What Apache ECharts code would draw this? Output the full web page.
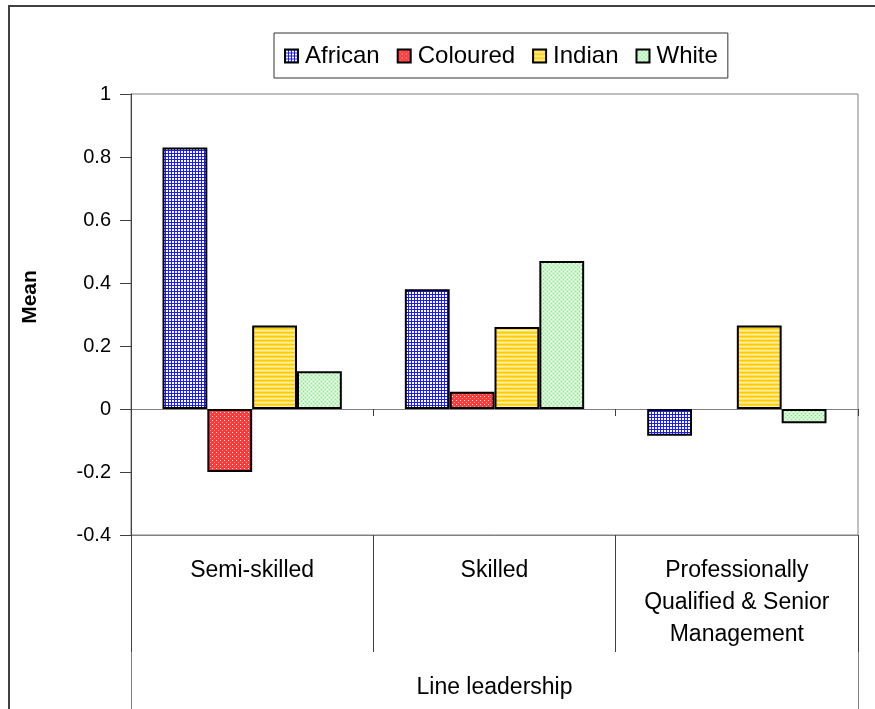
<!DOCTYPE html>
<html>
<head>
<meta charset="utf-8">
<script src="https://cdn.jsdelivr.net/npm/echarts@6/dist/echarts.min.js"></script>
<style>
  html, body { margin: 0; padding: 0; background: #fff; }
  #chart { width: 875px; height: 709px; }
</style>
</head>
<body>
<div id="chart"></div>
<script>
// Line leadership: mean score per occupational level and population group
const categories = ['Semi-skilled', 'Skilled', 'Professionally\nQualified & Senior\nManagement'];
const groupNames = ['African', 'Coloured', 'Indian', 'White'];
const african  = [0.83, 0.38, -0.085];
const coloured = [-0.2, 0.055, null];
const indian   = [0.265, 0.26, 0.265];
const white    = [0.12, 0.47, -0.045];
const yTicks   = { min: -0.4, max: 1, interval: 0.2 };

const FONT = 'Liberation Sans, Arial, sans-serif';

// Small tiled fills drawn on canvases, used as bar patterns
function tile(w, h, painter) {
  const c = document.createElement('canvas');
  c.width = w; c.height = h;
  const g = c.getContext('2d');
  g.fillStyle = '#ffffff';
  g.fillRect(0, 0, w, h);
  for (let y = 0; y < h; y++) {
    for (let x = 0; x < w; x++) {
      g.fillStyle = painter(x, y);
      g.fillRect(x, y, 1, 1);
    }
  }
  return { image: c, repeat: 'repeat' };
}
const gridBlue = tile(3, 3, (x, y) => (x === 0 || y === 0) ? '#1a1aff' : '#ffffff');
const hatchRed = tile(4, 4, (x, y) => {
  if (x === 0 && y === 0) return '#ffffff';
  if (x === 2 && y === 2) return '#ffa0a0';
  return '#ff3838';
});
const stripeGold = tile(4, 4, (x, y) => ['#ffcc00', '#ffd93a', '#fff0a0', '#ffe066'][y]);
const dotGreen = tile(4, 4, (x, y) => {
  if ((x === 1 && y === 1) || (x === 3 && y === 3)) return '#8ee08e';
  if ((x === 3 && y === 1) || (x === 1 && y === 3)) return '#ffffff';
  return '#ccf7cc';
});
const fills = [gridBlue, hatchRed, stripeGold, dotGreen];
const seriesData = [african, coloured, indian, white];

const chart = echarts.init(document.getElementById('chart'));

const G = { left: 131, right: 17, top: 94, bottom: 174 };

chart.setOption({
  animation: false,
  backgroundColor: '#ffffff',
  textStyle: { fontFamily: FONT },
  legend: {
    data: groupNames,
    left: 274,
    top: 33,
    padding: [11, 10, 10, 10],
    borderColor: '#333',
    borderWidth: 1,
    itemWidth: 13,
    itemHeight: 13,
    itemGap: 17,
    icon: 'rect',
    textStyle: { fontSize: 24, color: '#000', fontFamily: FONT, padding: [0, 0, 0, 2] }
  },
  grid: {
    left: G.left, right: G.right, top: G.top, bottom: G.bottom,
    show: true, borderColor: '#808080', borderWidth: 1
  },
  xAxis: [
    {
      // zero line with boundary ticks
      type: 'category',
      data: categories,
      position: 'bottom',
      axisLine: { onZero: true, lineStyle: { color: '#808080', width: 1 } },
      axisTick: { show: true, length: 7, lineStyle: { color: '#404040' } },
      axisLabel: { show: false },
      splitLine: { show: false }
    },
    {
      // category labels and separators below the plot
      type: 'category',
      data: categories,
      position: 'bottom',
      axisLine: { onZero: false, show: true, lineStyle: { color: '#808080', width: 1 } },
      axisTick: { show: true, length: 117, lineStyle: { color: '#404040' } },
      axisLabel: {
        interval: 0, margin: 20, fontSize: 23, color: '#000', lineHeight: 32, fontFamily: FONT
      },
      name: 'Line leadership',
      nameLocation: 'middle',
      nameGap: 141,
      nameTextStyle: { fontSize: 23, color: '#000', fontFamily: FONT },
      splitLine: { show: false }
    }
  ],
  yAxis: {
    type: 'value',
    min: yTicks.min, max: yTicks.max, interval: yTicks.interval,
    axisLine: { show: true, lineStyle: { color: '#404040', width: 1 } },
    axisTick: { show: true, length: 11, lineStyle: { color: '#404040' } },
    axisLabel: { fontSize: 20, color: '#000', margin: 20, fontFamily: FONT },
    splitLine: { show: false }
  },
  series: groupNames.map((name, i) => ({
    name: name,
    type: 'bar',
    xAxisIndex: 1,
    data: seriesData[i],
    barGap: '0%',
    barCategoryGap: '26%',
    itemStyle: { color: fills[i], borderColor: '#000', borderWidth: 2 }
  })),
  graphic: [
    // outer chart frame
    { type: 'rect', silent: true, shape: { x: 9, y: 6, width: 900, height: 760 },
      style: { fill: null, stroke: '#404040', lineWidth: 2 } },
    // plot frame extended through the category label band
    { type: 'line', silent: true, shape: { x1: G.left + 0.5, y1: 709 - G.bottom, x2: G.left + 0.5, y2: 709 },
      style: { stroke: '#808080', lineWidth: 1 } },
    { type: 'line', silent: true, shape: { x1: 875 - G.right + 0.5, y1: 709 - G.bottom, x2: 875 - G.right + 0.5, y2: 709 },
      style: { stroke: '#808080', lineWidth: 1 } },
    // y axis title
    { type: 'text', silent: true, x: 30, y: 297, rotation: Math.PI / 2,
      style: { text: 'Mean', font: 'bold 21px ' + FONT, fill: '#000', align: 'center', verticalAlign: 'middle' } }
  ]
});
</script>
</body>
</html>
